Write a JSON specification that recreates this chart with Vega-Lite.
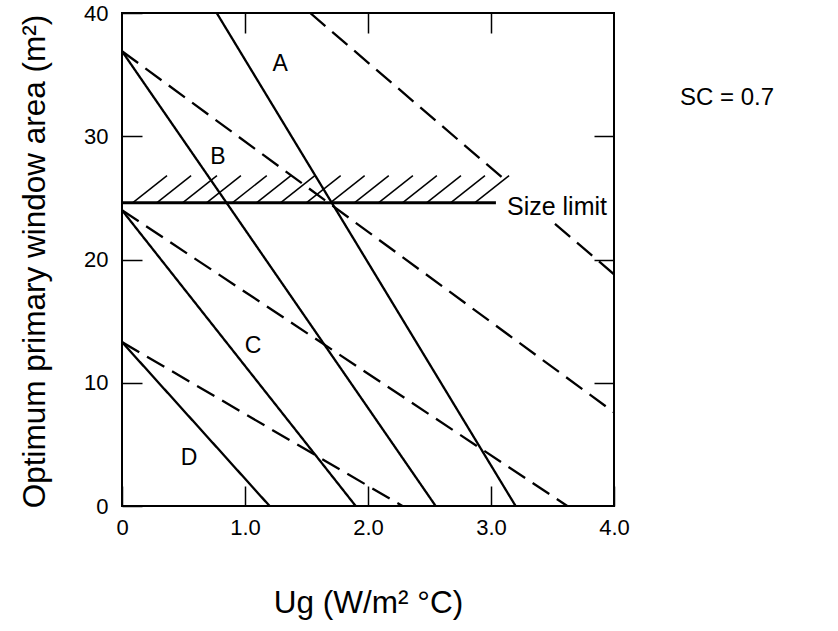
{
  "$schema": "https://vega.github.io/schema/vega-lite/v6.json",
  "width": 492,
  "height": 493,
  "autosize": {"type": "none"},
  "padding": {"left": 122, "top": 13, "right": 224, "bottom": 125},
  "background": "white",
  "config": {
    "view": {"stroke": "black", "strokeWidth": 2},
    "font": "Liberation Sans",
    "axis": {
      "grid": false, "domain": false, "tickColor": "black", "tickWidth": 1.5,
      "labelColor": "black", "titleColor": "black", "labelFont": "Liberation Sans",
      "titleFont": "Liberation Sans", "labelFontSize": 22, "titleFontSize": 31.5,
      "titleFontWeight": "normal", "labelFlush": false, "labelOverlap": false
    }
  },
  "datasets": {
    "lines": [
      {"id": "A_solid", "style": "solid", "x": 0.77, "y": 40},
      {"id": "A_solid", "style": "solid", "x": 3.2, "y": 0},
      {"id": "A_dash1", "style": "dashed", "x": 1.53, "y": 40},
      {"id": "A_dash1", "style": "dashed", "x": 3.12, "y": 26.4},
      {"id": "A_dash2", "style": "dashed", "x": 3.52, "y": 22.9},
      {"id": "A_dash2", "style": "dashed", "x": 4.0, "y": 18.8},
      {"id": "B_solid", "style": "solid", "x": 0, "y": 36.9},
      {"id": "B_solid", "style": "solid", "x": 2.55, "y": 0},
      {"id": "B_dash", "style": "dashed", "x": 0, "y": 36.9},
      {"id": "B_dash", "style": "dashed", "x": 4.0, "y": 7.6},
      {"id": "C_solid", "style": "solid", "x": 0, "y": 24.0},
      {"id": "C_solid", "style": "solid", "x": 1.9, "y": 0},
      {"id": "C_dash", "style": "dashed", "x": 0, "y": 24.0},
      {"id": "C_dash", "style": "dashed", "x": 3.62, "y": 0},
      {"id": "D_solid", "style": "solid", "x": 0, "y": 13.3},
      {"id": "D_solid", "style": "solid", "x": 1.2, "y": 0},
      {"id": "D_dash", "style": "dashed", "x": 0, "y": 13.3},
      {"id": "D_dash", "style": "dashed", "x": 2.28, "y": 0}
    ],
    "hatch": [
      {"x": 0.086, "x2": 0.366, "y": 24.6, "y2": 26.8},
      {"x": 0.282, "x2": 0.562, "y": 24.6, "y2": 26.8},
      {"x": 0.492, "x2": 0.772, "y": 24.6, "y2": 26.8},
      {"x": 0.687, "x2": 0.967, "y": 24.6, "y2": 26.8},
      {"x": 0.897, "x2": 1.177, "y": 24.6, "y2": 26.8},
      {"x": 1.093, "x2": 1.373, "y": 24.6, "y2": 26.8},
      {"x": 1.288, "x2": 1.568, "y": 24.6, "y2": 26.8},
      {"x": 1.498, "x2": 1.778, "y": 24.6, "y2": 26.8},
      {"x": 1.693, "x2": 1.973, "y": 24.6, "y2": 26.8},
      {"x": 1.889, "x2": 2.169, "y": 24.6, "y2": 26.8},
      {"x": 2.085, "x2": 2.365, "y": 24.6, "y2": 26.8},
      {"x": 2.28, "x2": 2.56, "y": 24.6, "y2": 26.8},
      {"x": 2.476, "x2": 2.756, "y": 24.6, "y2": 26.8},
      {"x": 2.671, "x2": 2.951, "y": 24.6, "y2": 26.8},
      {"x": 2.867, "x2": 3.147, "y": 24.6, "y2": 26.8}
    ],
    "limit": [{"x": 0, "x2": 3.04, "y": 24.6}],
    "letters": [
      {"x": 1.285, "y": 35.85, "t": "A"},
      {"x": 0.78, "y": 28.3, "t": "B"},
      {"x": 1.065, "y": 13.0, "t": "C"},
      {"x": 0.545, "y": 3.9, "t": "D"}
    ],
    "notes": [
      {"x": 3.13, "y": 24.3, "t": "Size limit"}
    ],
    "sc": [
      {"x": 4.537, "y": 33.1, "t": "SC = 0.7"}
    ]
  },
  "layer": [
    {
      "data": {"name": "lines"},
      "mark": {"type": "line", "color": "black", "strokeWidth": 2.3, "clip": true},
      "encoding": {
        "x": {"field": "x", "type": "quantitative", "scale": {"domain": [0, 4], "nice": false},
          "axis": {"orient": "bottom", "values": [0, 1, 2, 3, 4],
            "labelExpr": "datum.value == 0 ? '0' : format(datum.value, '.1f')",
            "tickSize": -20, "labelPadding": 31,
            "title": "Ug (W/m² °C)", "titleX": 246, "titleY": 106,
            "titleAlign": "center", "titleBaseline": "alphabetic"}},
        "y": {"field": "y", "type": "quantitative", "scale": {"domain": [0, 40], "nice": false},
          "axis": {"orient": "left", "values": [0, 10, 20, 30, 40],
            "tickSize": -20, "labelPadding": 34,
            "title": "Optimum primary window area (m²)", "titleAngle": -90,
            "titleX": -78, "titleY": 248, "titleAlign": "center", "titleBaseline": "alphabetic"}},
        "detail": {"field": "id", "type": "nominal"},
        "strokeDash": {"field": "style", "type": "nominal",
          "scale": {"domain": ["solid", "dashed"], "range": [[1, 0], [20, 9]]}, "legend": null}
      }
    },
    {
      "data": {"name": "hatch"},
      "mark": {"type": "rule", "color": "black", "strokeWidth": 1.5},
      "encoding": {
        "x": {"field": "x", "type": "quantitative", "scale": {"domain": [0, 4], "nice": false},
          "axis": {"orient": "top", "values": [1, 2, 3], "labels": false, "tickSize": -20, "title": null}},
        "x2": {"field": "x2"},
        "y": {"field": "y", "type": "quantitative", "scale": {"domain": [0, 40], "nice": false},
          "axis": {"orient": "right", "values": [10, 20, 30], "labels": false, "tickSize": -20, "title": null}},
        "y2": {"field": "y2"}
      }
    },
    {
      "data": {"name": "limit"},
      "mark": {"type": "rule", "color": "black", "strokeWidth": 3},
      "encoding": {
        "x": {"field": "x", "type": "quantitative", "scale": {"domain": [0, 4], "nice": false}, "axis": null},
        "x2": {"field": "x2"},
        "y": {"field": "y", "type": "quantitative", "scale": {"domain": [0, 40], "nice": false}, "axis": null}
      }
    },
    {
      "data": {"name": "letters"},
      "mark": {"type": "text", "color": "black", "fontSize": 23, "align": "center", "baseline": "middle", "font": "Liberation Sans"},
      "encoding": {
        "x": {"field": "x", "type": "quantitative", "scale": {"domain": [0, 4], "nice": false}, "axis": null},
        "y": {"field": "y", "type": "quantitative", "scale": {"domain": [0, 40], "nice": false}, "axis": null},
        "text": {"field": "t"}
      }
    },
    {
      "data": {"name": "notes"},
      "mark": {"type": "text", "color": "black", "fontSize": 25, "align": "left", "baseline": "middle", "font": "Liberation Sans"},
      "encoding": {
        "x": {"field": "x", "type": "quantitative", "scale": {"domain": [0, 4], "nice": false}, "axis": null},
        "y": {"field": "y", "type": "quantitative", "scale": {"domain": [0, 40], "nice": false}, "axis": null},
        "text": {"field": "t"}
      }
    },
    {
      "data": {"name": "sc"},
      "mark": {"type": "text", "color": "black", "fontSize": 24, "align": "left", "baseline": "middle", "font": "Liberation Sans"},
      "encoding": {
        "x": {"field": "x", "type": "quantitative", "scale": {"domain": [0, 4], "nice": false}, "axis": null},
        "y": {"field": "y", "type": "quantitative", "scale": {"domain": [0, 40], "nice": false}, "axis": null},
        "text": {"field": "t"}
      }
    }
  ],
  "resolve": {"axis": {"x": "independent", "y": "independent"}}
}
